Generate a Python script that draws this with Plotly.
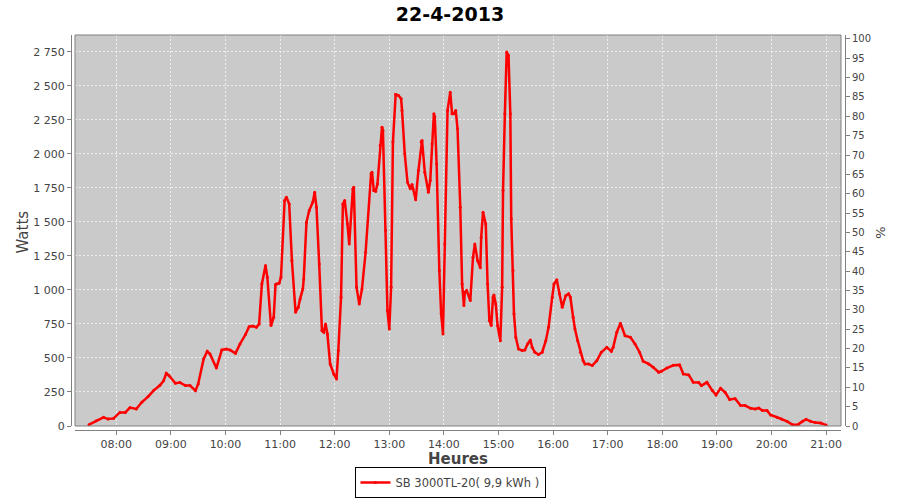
import plotly.graph_objects as go

DATE = "2013-04-22"
times = ["07:30","07:38","07:46","07:51","07:57","08:04","08:10","08:15","08:22","08:28",
"08:35","08:41","08:48","08:52","08:55","08:58","09:05","09:10","09:16","09:21",
"09:27","09:30","09:36","09:40","09:43","09:50","09:56","10:01","10:05","10:11",
"10:16","10:22","10:26","10:30","10:34","10:37","10:40","10:44","10:46","10:50",
"10:53","10:55","10:56","10:59","11:01","11:05","11:07","11:10","11:13","11:17",
"11:20","11:22","11:25","11:26","11:29","11:32","11:36","11:38","11:40","11:43",
"11:46","11:48","11:50","11:52","11:55","11:59","12:02","12:04","12:07","12:09",
"12:11","12:14","12:16","12:20","12:21","12:24","12:27","12:30","12:34","12:40",
"12:41","12:43","12:45","12:47","12:50","12:52","12:53","12:56","12:58","13:00",
"13:02","13:04","13:07","13:10","13:13","13:14","13:17","13:20","13:23","13:25",
"13:26","13:29","13:32","13:35","13:36","13:39","13:43","13:45","13:47","13:49",
"13:50","13:52","13:55","13:57","13:59","14:01","14:04","14:07","14:09","14:11",
"14:13","14:15","14:18","14:20","14:22","14:23","14:25","14:29","14:32","14:34",
"14:37","14:40","14:41","14:43","14:46","14:48","14:50","14:52","14:54","14:55",
"14:57","14:59","15:02","15:04","15:05","15:07","15:09","15:11","15:13","15:14",
"15:16","15:17","15:19","15:22","15:26","15:29","15:32","15:35","15:37","15:40",
"15:44","15:48","15:52","15:55","15:59","16:01","16:04","16:07","16:10","16:11",
"16:14","16:17","16:19","16:22","16:24","16:27","16:30","16:33","16:35","16:39",
"16:43","16:48","16:53","16:59","17:04","17:06","17:10","17:14","17:19","17:25",
"17:30","17:35","17:39","17:45","17:50","17:56","17:59","18:05","18:12","18:19",
"18:23","18:29","18:34","18:40","18:43","18:49","18:55","18:59","19:04","19:09",
"19:14","19:20","19:26","19:31","19:37","19:42","19:46","19:50","19:55","19:59",
"20:06","20:11","20:17","20:23","20:29","20:34","20:38","20:43","20:48","20:54",
"21:00"]
watts = [10,39,64,51,56,100,100,135,125,174,
216,260,299,333,387,370,314,319,297,297,
260,309,493,549,529,426,559,566,559,534,
603,672,730,735,725,750,1044,1179,1093,738,
799,1039,1044,1049,1093,1657,1681,1632,1216,836,
873,934,1007,1081,1498,1583,1645,1718,1608,1191,
701,689,750,676,456,382,346,554,946,1632,
1657,1485,1338,1743,1755,1020,897,1007,1277,1853,
1865,1730,1725,1779,2061,2196,2172,1436,848,713,
1020,2086,2436,2429,2404,2319,2000,1792,1743,1775,
1743,1662,1877,2086,2098,1865,1718,1804,2074,2294,
2270,1926,1142,824,676,1338,2319,2453,2294,2294,
2319,2184,1608,1044,885,983,995,922,1240,1338,
1216,1162,1387,1571,1485,1044,775,738,946,963,
897,738,627,1020,1730,2294,2748,2723,2294,1522,
1142,824,652,566,554,559,603,632,578,542,
525,542,627,725,946,1044,1074,971,873,897,
958,971,946,799,713,627,542,480,456,456,
444,480,542,578,549,578,689,755,664,652,
603,542,475,456,431,395,402,426,446,449,
382,375,321,319,297,321,260,228,277,248,
194,201,150,150,130,125,132,113,113,81,
64,51,34,10,10,34,49,34,25,22,
7]
series_name = "SB 3000TL-20( 9,9 kWh )"
title_text = "22-4-2013"
hour_ticks = ["08:00","09:00","10:00","11:00","12:00","13:00","14:00","15:00",
              "16:00","17:00","18:00","19:00","20:00","21:00"]
watt_ticks = list(range(0, 3000, 250))
pct_ticks = list(range(0, 105, 5))

x = [f"{DATE} {t}" for t in times]

W, H = 900, 500
ml, mr, mt, mb = 71, 55, 35, 70
pw = W - ml - mr
ph = H - mt - mb
xdom = [4 / pw, (841 - ml) / pw]
ydom = [4 / ph, 1]

axis_col = "#808080"
tick_font = dict(family="DejaVu Sans", size=11, color="#444444")

fig = go.Figure()
fig.add_trace(go.Scatter(x=x, y=watts, mode="lines+markers", name=series_name,
                         line=dict(color="#FF0000", width=2.5),
                         marker=dict(size=3, color="#FF0000"),
                         showlegend=True))
fig.add_trace(go.Scatter(x=[None], y=[None], yaxis="y2", showlegend=False,
                         hoverinfo="skip"))

fig.update_layout(
    width=W, height=H,
    margin=dict(l=ml, r=mr, t=mt, b=mb, autoexpand=False),
    paper_bgcolor="white",
    plot_bgcolor="#CACACA",
    separators=", ",
    font=dict(family="DejaVu Sans", color="#444444"),
    title=dict(text=title_text, x=0.5, xanchor="center", xref="container",
               y=1 - 14 / H, yanchor="middle", yref="container",
               font=dict(family="DejaVu Sans", size=19, color="black", weight="bold")),
    xaxis=dict(
        type="date", domain=xdom, anchor="free", position=0, automargin=False,
        range=[f"{DATE} 07:14:40", f"{DATE} 21:16:20"],
        tickvals=[f"{DATE} {t}" for t in hour_ticks], ticktext=hour_ticks,
        showline=True, linecolor=axis_col, linewidth=1,
        ticks="outside", ticklen=4, tickcolor=axis_col,
        showgrid=True, gridcolor="#EEEEEE", griddash="2px,2px", gridwidth=1,
        zeroline=False, tickfont=tick_font,
    ),
    yaxis=dict(
        domain=ydom, anchor="free", position=0, automargin=False,
        range=[0, 2873], tickvals=watt_ticks, tickformat=",d",
        showline=True, linecolor=axis_col, linewidth=1,
        ticks="outside", ticklen=4, tickcolor=axis_col,
        showgrid=True, gridcolor="#EEEEEE", griddash="2px,2px", gridwidth=1,
        zeroline=False, tickfont=tick_font,
    ),
    yaxis2=dict(
        overlaying="y", side="right", anchor="free", position=1, automargin=False,
        range=[0, 101], tickvals=pct_ticks,
        showline=True, linecolor=axis_col, linewidth=1,
        ticks="outside", ticklen=4, tickcolor=axis_col,
        showgrid=False, zeroline=False,
        tickfont=dict(family="DejaVu Sans", size=10, color="#444444"),
    ),
    legend=dict(orientation="h", x=0.5, xanchor="center", xref="container",
                y=-(467 - (H - mb)) / ph, yanchor="top",
                bordercolor="black", borderwidth=1, bgcolor="white",
                font=dict(family="DejaVu Sans", size=11.5, color="#444444"),
                itemwidth=30, tracegroupgap=0),
    showlegend=True,
)
fig.add_annotation(text="Watts", xref="paper", yref="paper", x=(22 - ml) / pw, y=0.5,
                   xanchor="center", yanchor="middle", showarrow=False, textangle=-90,
                   font=dict(family="DejaVu Sans", size=15, color="#444444"))
fig.add_annotation(text="<b>Heures</b>", xref="paper", yref="paper",
                   x=(458 - ml) / pw, y=-(459 - (H - mb)) / ph,
                   xanchor="center", yanchor="middle", showarrow=False,
                   font=dict(family="DejaVu Sans", size=15, color="#444444"))
fig.add_annotation(text="%", xref="paper", yref="paper", x=1 + 35 / pw, y=0.5,
                   xanchor="center", yanchor="middle", showarrow=False, textangle=90,
                   font=dict(family="DejaVu Sans", size=13, color="#444444"))
fig.add_shape(type="rect", xref="x domain", yref="y domain", x0=0, x1=1, y0=0, y1=1,
              line=dict(color=axis_col, width=1), fillcolor="rgba(0,0,0,0)", layer="above")

fig.write_html("out.html", config={"displayModeBar": False},
               post_script="document.body.style.margin='0';document.body.style.padding='0';")
